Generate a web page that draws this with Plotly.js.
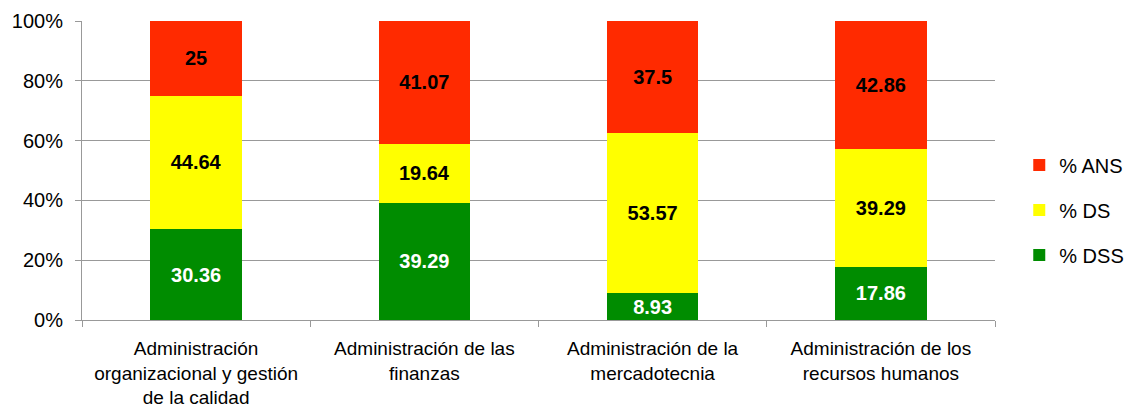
<!DOCTYPE html>
<html>
<head>
<meta charset="utf-8">
<script src="https://cdn.plot.ly/plotly-3.0.1.min.js"></script>
<style>html,body{margin:0;padding:0;background:#fff;}#chart{width:1130px;height:407px;}</style>
</head>
<body>
<div id="chart"></div>
<script>
const categories = [
  "Administración<br>organizacional y gestión<br>de la calidad",
  "Administración de las<br>finanzas",
  "Administración de la<br>mercadotecnia",
  "Administración de los<br>recursos humanos"
];
const dss = [30.36, 39.29, 8.93, 17.86];
const ds = [44.64, 19.64, 53.57, 39.29];
const ans = [25, 41.07, 37.5, 42.86];
const yTicks = [0, 20, 40, 60, 80, 100];

const font = "Arial, 'Liberation Sans', Helvetica, sans-serif";
function trace(name, vals, color, txtColor, grp, rank) {
  return {
    type: 'bar', name: name, x: categories, y: vals,
    marker: {color: color},
    text: vals.map(v => String(v)),
    textposition: 'inside', insidetextanchor: 'middle',
    textfont: {family: font, size: 20, color: txtColor, weight: 'bold'},
    texttemplate: '<b>%{text}</b>',
    constraintext: 'none',
    legendgroup: grp, legendrank: rank,
    hoverinfo: 'skip'
  };
}
const data = [
  trace('% DSS', dss, '#008C00', '#ffffff', 'a', 3),
  trace('% DS', ds, '#FFFF00', '#000000', 'b', 2),
  trace('% ANS', ans, '#FF2A00', '#000000', 'c', 1)
];
const layout = {
  width: 1130, height: 407,
  margin: {l: 82, r: 135, t: 21, b: 87},
  barmode: 'stack', bargap: 0.6,
  paper_bgcolor: '#fff', plot_bgcolor: '#fff',
  font: {family: font, size: 20, color: '#000'},
  showlegend: true,
  legend: {xref: 'container', yref: 'container', x: 0.902, xanchor: 'left', y: 0.484, yanchor: 'middle', traceorder: 'grouped', tracegroupgap: 16, font: {size: 20}},
  xaxis: {
    type: 'category', tickson: 'boundaries', ticks: 'outside', ticklen: 6, tickcolor: '#999',
    showline: true, linecolor: '#999', linewidth: 1, showgrid: false,
    tickfont: {size: 19}, ticklabelstandoff: 11
  },
  yaxis: {
    range: [0, 100], tickvals: yTicks, ticktext: yTicks.map(v => v + '%'),
    ticks: 'outside', ticklen: 6, tickcolor: '#999',
    showline: true, linecolor: '#999', linewidth: 1,
    showgrid: true, gridcolor: '#999', gridwidth: 1, zeroline: false,
    tickfont: {size: 20}, ticklabelstandoff: 8
  }
};
Plotly.newPlot('chart', data, layout, {displayModeBar: false, staticPlot: true});
</script>
</body>
</html>
